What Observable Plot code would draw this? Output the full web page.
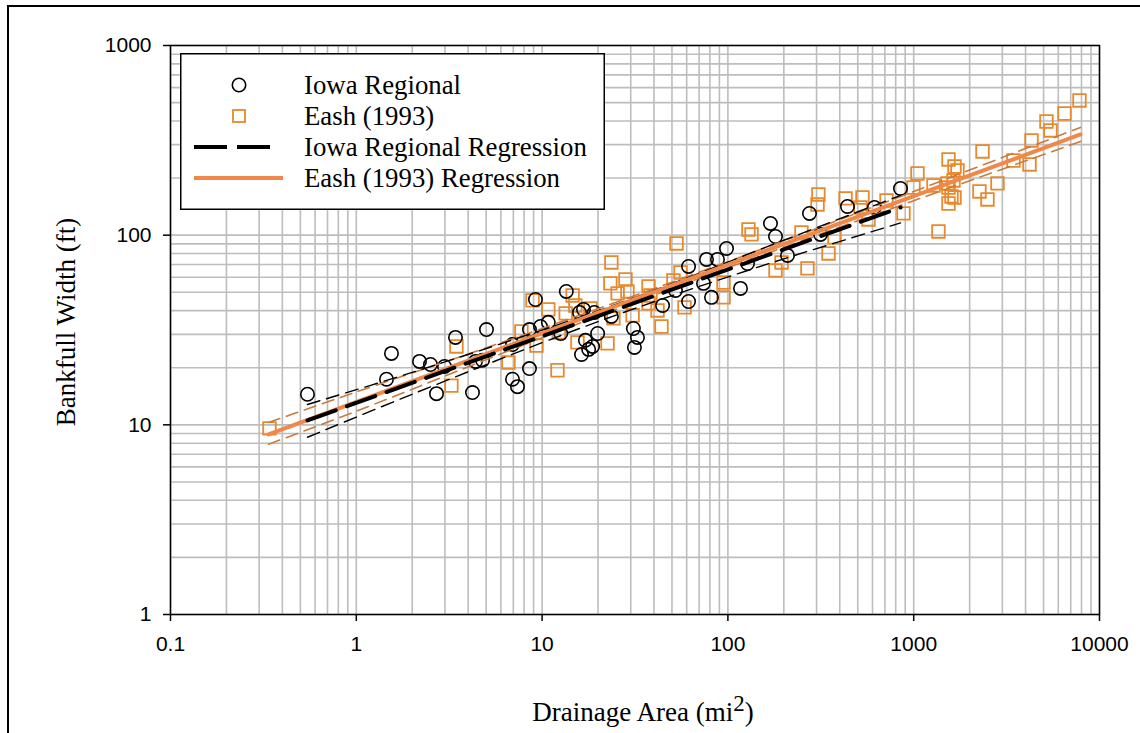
<!DOCTYPE html>
<html>
<head>
<meta charset="utf-8">
<script src="https://cdn.jsdelivr.net/npm/d3@7"></script>
<script src="https://cdn.jsdelivr.net/npm/@observablehq/plot@0.6"></script>
<style>
  body { margin: 0; background: #fff; }
  #wrap { position: relative; width: 1140px; height: 733px; overflow: hidden; background: #fff; }
  #border { position: absolute; left: 7px; top: 5px; width: 1300px; height: 900px;
            border-left: 2px solid #000; border-top: 2px solid #000; pointer-events: none; }
  #chart { position: absolute; left: 0; top: 0; }
  .title { position: absolute; font-family: "Liberation Serif", "Times New Roman", serif;
           font-size: 27px; color: #000; white-space: nowrap; line-height: 1; }
  #ytitle { left: 66px; top: 322px; transform: translate(-50%, -50%) rotate(-90deg); }
  #xtitle { left: 643px; top: 699px; transform: translateX(-50%); }
  #xtitle sup { font-size: 0.85em; position: relative; top: -0.45em; vertical-align: baseline; }
  #legend { position: absolute; left: 180px; top: 53px; }
</style>
</head>
<body>
<div id="wrap">
  <div id="chart"></div>
  <div id="legend"></div>
  <div class="title" id="ytitle">Bankfull Width (ft)</div>
  <div class="title" id="xtitle">Drainage Area (mi<sup>2</sup>)</div>
  <div id="border"></div>
</div>
<script>
// ---------- Data ----------
const iowaArea  = [0.546, 1.454, 1.546, 2.189, 2.507, 2.983, 2.702, 3.419, 5.02, 4.22, 4.38, 4.78,
                   6.93, 6.93, 7.37, 8.55, 9.21, 8.55, 9.80, 10.8, 13.5, 12.6, 15.9, 16.7, 19.1, 19.9,
                   17.1, 18.7, 16.3, 17.8, 23.6, 31.0, 32.6, 31.4, 44.5, 61.4, 61.4, 52.2, 73.9, 76.7,
                   87.9, 98.3, 81.6, 116.9, 127.5, 169.5, 180.4, 209.3, 274.9, 315, 440, 615, 849];
const iowaWidth = [14.5, 17.4, 23.8, 21.6, 20.8, 20.3, 14.6, 28.9, 31.8, 14.8, 21.6, 21.9,
                   26.5, 17.4, 15.9, 19.8, 45.8, 31.8, 33.0, 34.7, 50.5, 30.3, 39.1, 40.6, 39.1, 30.3,
                   27.9, 25.9, 23.5, 25.0, 37.3, 32.2, 28.9, 25.6, 42.6, 68.4, 44.7, 51.1, 55.7, 74.5,
                   74.5, 85.1, 47.0, 52.4, 70.9, 115.3, 98.4, 78.2, 130.2, 100.9, 141.7, 140, 176.3];

const eashArea  = [0.341, 3.46, 3.25, 6.59, 7.74, 8.88, 9.33, 12.1, 10.8, 13.4, 14.6, 12.3, 15.5, 15.1,
                   18.2, 22.5, 23.6, 23.3, 28.1, 25.5, 28.8, 24.2, 30.7, 37.4, 38.3, 41.8, 43.9, 52.9,
                   55.6, 58.4, 50.9, 37.4, 94.7, 94.7, 129, 134, 180.4, 194.3, 248.9, 268, 348, 374.6,
                   307, 303.6, 429.6, 530, 517, 571, 714, 881, 997, 1048, 1278, 1539, 1658, 1720, 1520,
                   1539, 1637, 1597, 1539, 1658, 1359, 2259, 2495, 2824, 2346, 3443, 4200, 4305, 5182,
                   5447, 6479, 7803];
const eashWidth = [9.58, 25.9, 16.1, 21.3, 31.1, 45.3, 26.2, 19.4, 40.6, 38.7, 48.1, 30.7, 27.2, 42.6,
                   41.1, 26.9, 71.8, 55.7, 58.4, 49.3, 50.5, 36.4, 37.8, 53.7, 48.1, 40.1, 33.0, 90.4,
                   63.6, 41.6, 57.7, 43.7, 56.3, 47.0, 107.2, 100.9, 65.2, 71.8, 103.3, 66.8, 80.1, 97.3,
                   163.9, 145.2, 156.2, 158, 140, 121, 152.4, 130.2, 178.4, 211.5, 182.9, 250.7, 230.2,
                   219.4, 187.4, 178.4, 194.3, 160, 146.9, 158, 104.6, 170, 154.3, 187.4, 276.3, 247.6,
                   235.9, 315.7, 397.5, 356.4, 438, 513];

// Regression lines (end points)
const iowaRegArea  = [0.546, 850];
const iowaRegWidth = [10.55, 140];
const eashRegArea  = [0.337, 7900];
const eashRegWidth = [8.9, 339.6];

// Confidence bands (thin dashed lines), read at a few positions
const iowaCIArea  = [0.546, 2, 10, 20, 50, 200, 850];
const iowaCIUpper = [12.8, 18.9, 31.6, 39.9, 55.5, 94, 162];
const iowaCILower = [8.6, 14.5, 27.1, 35.0, 48, 75, 116];
const eashCIArea  = [0.337, 1, 10, 100, 1000, 7900];
const eashCIUpper = [10.3, 14.9, 32.2, 72.5, 170, 370];
const eashCILower = [7.9, 11.8, 28.8, 67.4, 152, 312];

// Axis ticks
const xTicks = [0.1, 1, 10, 100, 1000, 10000];
const xTickLabels = ["0.1", "1", "10", "100", "1000", "10000"];
const yTicks = [1, 10, 100, 1000];
const yTickLabels = ["1", "10", "100", "1000"];

const legendLabels = ["Iowa Regional", "Eash (1993)", "Iowa Regional Regression", "Eash (1993) Regression"];

// ---------- Styles ----------
const cIowa = "#000000";
const cEashMarker = "#E8892B";
const cEashLine = "#F0884A";
const cEashCI = "#C97A3C";
const cGrid = "#bdbdbd";

// ---------- Build tables ----------
const iowaPts = iowaArea.map((a, i) => ({area: a, width: iowaWidth[i]}));
const eashPts = eashArea.map((a, i) => ({area: a, width: eashWidth[i]}));
const iowaReg = iowaRegArea.map((a, i) => ({area: a, width: iowaRegWidth[i]}));
const eashReg = eashRegArea.map((a, i) => ({area: a, width: eashRegWidth[i]}));
const iowaUp = iowaCIArea.map((a, i) => ({area: a, width: iowaCIUpper[i]}));
const iowaLo = iowaCIArea.map((a, i) => ({area: a, width: iowaCILower[i]}));
const eashUp = eashCIArea.map((a, i) => ({area: a, width: eashCIUpper[i]}));
const eashLo = eashCIArea.map((a, i) => ({area: a, width: eashCILower[i]}));

const xGrid = d3.scaleLog().domain([0.1, 10000]).ticks();
const yGrid = d3.scaleLog().domain([1, 1000]).ticks();

const chart = Plot.plot({
  width: 1140,
  height: 733,
  marginLeft: 170,
  marginRight: 41,
  marginTop: 45,
  marginBottom: 119,
  style: {fontFamily: "'Liberation Sans', Arial, sans-serif", fontSize: "21px", color: "#000", background: "transparent", overflow: "visible"},
  x: {type: "log", domain: [0.1, 10000], label: null},
  y: {type: "log", domain: [1, 1000], label: null},
  marks: [
    Plot.gridX(xGrid, {stroke: cGrid, strokeOpacity: 1, strokeWidth: 1.6}),
    Plot.gridY(yGrid, {stroke: cGrid, strokeOpacity: 1, strokeWidth: 1.6}),
    Plot.dot(eashPts, {x: "area", y: "width", symbol: "square", r: 7.1, stroke: cEashMarker, strokeWidth: 1.8, fill: "none"}),
    Plot.dot(iowaPts, {x: "area", y: "width", symbol: "circle", r: 6.7, stroke: cIowa, strokeWidth: 1.6, fill: "none"}),
    Plot.line(eashUp, {x: "area", y: "width", curve: "catmull-rom", stroke: cEashCI, strokeWidth: 1.6, strokeDasharray: "12,7"}),
    Plot.line(eashLo, {x: "area", y: "width", curve: "catmull-rom", stroke: cEashCI, strokeWidth: 1.6, strokeDasharray: "12,7"}),
    Plot.line(iowaUp, {x: "area", y: "width", curve: "catmull-rom", stroke: cIowa, strokeWidth: 1.4, strokeDasharray: "13,7"}),
    Plot.line(iowaLo, {x: "area", y: "width", curve: "catmull-rom", stroke: cIowa, strokeWidth: 1.4, strokeDasharray: "13,7"}),
    Plot.line(eashReg, {x: "area", y: "width", stroke: cEashLine, strokeWidth: 4}),
    Plot.line(iowaReg, {x: "area", y: "width", stroke: cIowa, strokeWidth: 4, strokeDasharray: "30,12"}),
    Plot.frame({stroke: "#000", strokeWidth: 1.5}),
    Plot.axisX(xTicks, {tickSize: 7, tickPadding: 15, strokeWidth: 1.5,
      tickFormat: d => xTickLabels[xTicks.indexOf(d)], label: null}),
    Plot.axisY(yTicks, {tickSize: 7, tickPadding: 12, strokeWidth: 1.5,
      tickFormat: d => yTickLabels[yTicks.indexOf(d)], label: null})
  ]
});
document.getElementById("chart").appendChild(chart);

// ---------- Legend ----------
const NS = "http://www.w3.org/2000/svg";
const lg = document.createElementNS(NS, "svg");
lg.setAttribute("width", 426);
lg.setAttribute("height", 158);
function el(tag, attrs, text) {
  const e = document.createElementNS(NS, tag);
  for (const k in attrs) e.setAttribute(k, attrs[k]);
  if (text != null) e.textContent = text;
  lg.appendChild(e);
  return e;
}
el("rect", {x: 0.75, y: 0.75, width: 423.5, height: 155.5, fill: "#fff", stroke: "#000", "stroke-width": 1.5});
el("circle", {cx: 59, cy: 32, r: 6.7, fill: "none", stroke: cIowa, "stroke-width": 1.6});
el("rect", {x: 53, y: 57, width: 12, height: 12, fill: "none", stroke: cEashMarker, "stroke-width": 1.8});
el("line", {x1: 14, x2: 90, y1: 94, y2: 94, stroke: cIowa, "stroke-width": 4, "stroke-dasharray": "33,10"});
el("line", {x1: 14, x2: 103, y1: 125, y2: 125, stroke: cEashLine, "stroke-width": 4});
legendLabels.forEach((t, i) => {
  el("text", {x: 124, y: 41 + i * 31, "font-family": "'Liberation Serif', 'Times New Roman', serif", "font-size": 26.8, fill: "#000"}, t);
});
document.getElementById("legend").appendChild(lg);
</script>
</body>
</html>
